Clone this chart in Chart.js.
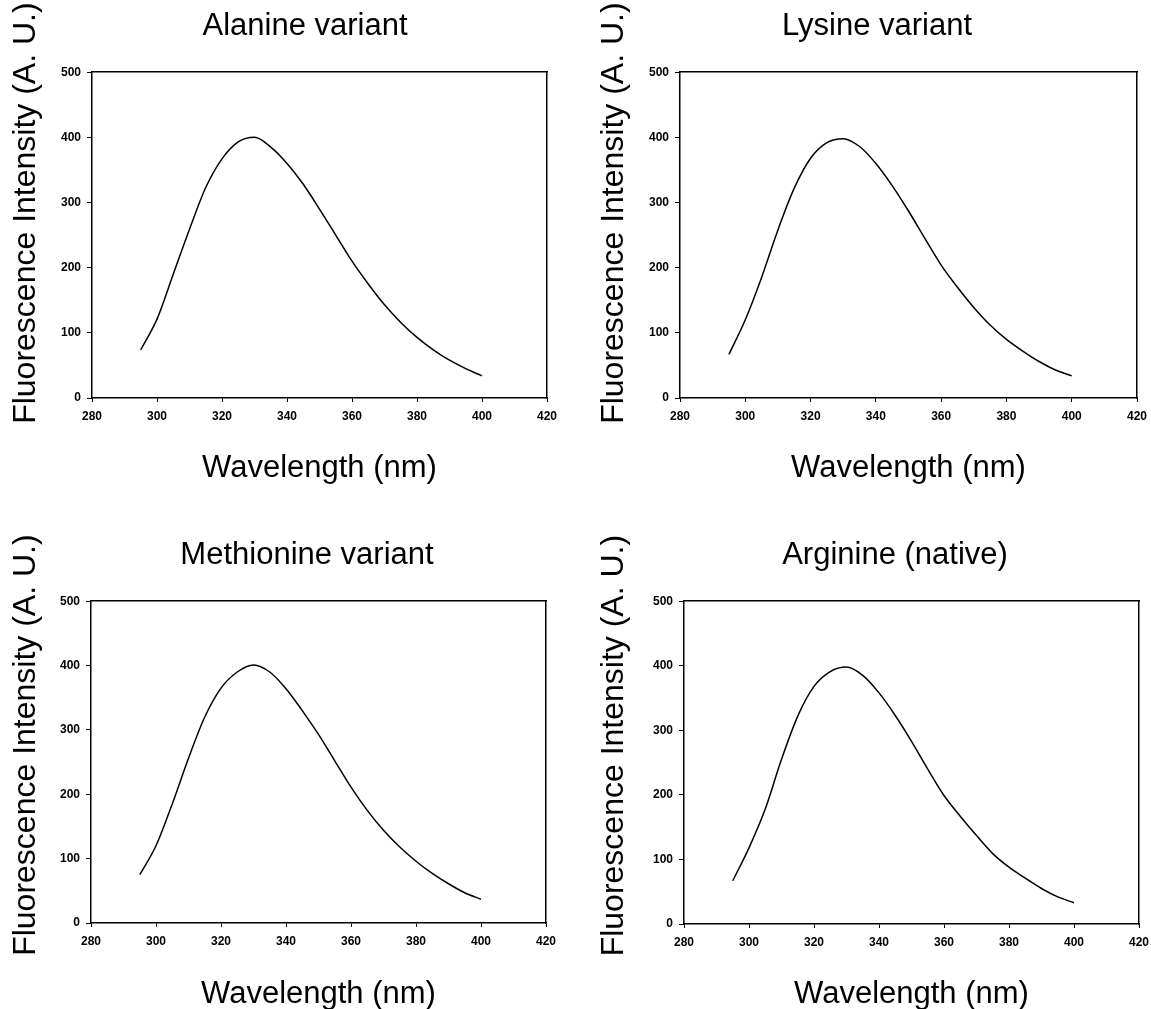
<!DOCTYPE html>
<html>
<head>
<meta charset="utf-8">
<script src="https://cdn.jsdelivr.net/npm/chart.js@4.4.0/dist/chart.umd.min.js"></script>
<style>
  html, body { margin: 0; padding: 0; background: #fff; overflow: hidden; }
  body { position: relative; width: 1151px; height: 1009px; }
  canvas { position: absolute; }
</style>
</head>
<body>
<canvas id="alanine"></canvas>
<canvas id="lysine"></canvas>
<canvas id="methionine"></canvas>
<canvas id="arginine"></canvas>
<script>
// emission spectra, wavelength in nm
const wavelengths = [295, 300, 305, 310, 315, 320, 325, 330, 335, 340, 345, 350, 355, 360, 365, 370, 375, 380, 385, 390, 395, 400];

const alanine    = [74, 121, 190, 259, 323, 367, 393, 400, 385, 360, 328, 290, 250, 210, 175, 143, 116, 93, 74, 58, 45, 34];
const lysine     = [67, 120, 185, 258, 322, 368, 392, 398, 386, 360, 326, 287, 245, 204, 170, 139, 112, 90, 72, 56, 43, 34];
const methionine = [75, 120, 185, 256, 320, 365, 390, 401, 390, 364, 330, 293, 252, 211, 175, 144, 118, 96, 77, 61, 47, 37];
const arginine   = [67, 118, 178, 255, 322, 368, 391, 398, 385, 358, 323, 283, 240, 199, 167, 137, 109, 88, 71, 55, 42, 33];

const xTicks = [280, 300, 320, 340, 360, 380, 400, 420];
const yTicks = [0, 100, 200, 300, 400, 500];

const FONT = "'Liberation Sans', Arial, Helvetica, sans-serif";

const panels = [
  { id: 'alanine', title: 'Alanine variant', values: alanine,
    left: 0, top: 0, width: 610, height: 487, yAxisWidth: 92, rightGap: 63,
    titleTop: 8, titleBottom: 27, xAxisHeight: 89, yTitleShift: -22 },
  { id: 'lysine', title: 'Lysine variant', values: lysine,
    left: 588, top: 0, width: 578, height: 487, yAxisWidth: 92, rightGap: 29,
    titleTop: 8, titleBottom: 27, xAxisHeight: 89, yTitleShift: -22 },
  { id: 'methionine', title: 'Methionine variant', values: methionine,
    left: 0, top: 532, width: 614, height: 481, yAxisWidth: 91, rightGap: 68,
    titleTop: 5, titleBottom: 27, xAxisHeight: 90, yTitleShift: -17 },
  { id: 'arginine', title: 'Arginine (native)', values: arginine,
    left: 588, top: 532, width: 614, height: 481, yAxisWidth: 96, rightGap: 63,
    titleTop: 5, titleBottom: 27, xAxisHeight: 89, yTitleShift: -17 },
];

// vertical axis label, drawn beside the y scale and nudged off its centre
const yTitlePlugin = {
  id: 'yTitle',
  afterDraw(chart, args, opts) {
    const { ctx, chartArea } = chart;
    const y = chart.scales.y;
    ctx.save();
    ctx.translate(y.left + opts.offset, (chartArea.top + chartArea.bottom) / 2 + opts.shift);
    ctx.rotate(-Math.PI / 2);
    ctx.font = '32px ' + FONT;
    ctx.fillStyle = '#000';
    ctx.textAlign = 'center';
    ctx.textBaseline = 'middle';
    ctx.fillText(opts.text, 0, 0);
    ctx.restore();
  },
};

function makeChart(p) {
  const canvas = document.getElementById(p.id);
  canvas.width = p.width;
  canvas.height = p.height;
  canvas.style.left = p.left + 'px';
  canvas.style.top = p.top + 'px';

  const tickFont = { family: FONT, size: 12, weight: 'bold' };
  const bigFont = { family: FONT, size: 31, weight: 'normal' };

  return new Chart(canvas, {
    type: 'line',
    data: {
      datasets: [{
        data: wavelengths.map((w, i) => ({ x: w, y: p.values[i] })),
        borderColor: '#000',
        borderWidth: 1.5,
        pointRadius: 0,
        cubicInterpolationMode: 'monotone',
        fill: false,
      }],
    },
    plugins: [yTitlePlugin],
    options: {
      responsive: false,
      animation: false,
      devicePixelRatio: 1,
      layout: { padding: 0 },
      plugins: {
        legend: { display: false },
        tooltip: { enabled: false },
        title: {
          display: true,
          text: p.title,
          color: '#000',
          font: bigFont,
          padding: { top: p.titleTop, bottom: p.titleBottom },
        },
        yTitle: { text: 'Fluorescence Intensity (A. U.)', offset: 26, shift: p.yTitleShift },
      },
      scales: {
        x: {
          type: 'linear',
          position: 'bottom',
          min: 280,
          max: 420,
          afterBuildTicks: (s) => { s.ticks = xTicks.map((v) => ({ value: v })); },
          afterFit: (s) => { s.height = p.xAxisHeight; },
          ticks: { color: '#000', font: tickFont, padding: 7, maxRotation: 0, autoSkip: false },
          grid: { drawOnChartArea: false, drawTicks: true, tickLength: 4, color: '#000', lineWidth: 1 },
          border: { display: true, color: '#000', width: 1.5 },
          title: { display: true, text: 'Wavelength (nm)', color: '#000', font: bigFont, padding: 0 },
        },
        y: {
          type: 'linear',
          position: 'left',
          min: 0,
          max: 500,
          afterBuildTicks: (s) => { s.ticks = yTicks.map((v) => ({ value: v })); },
          afterFit: (s) => { s.width = p.yAxisWidth; },
          ticks: { color: '#000', font: tickFont, padding: 6 },
          grid: { drawOnChartArea: false, drawTicks: true, tickLength: 5, color: '#000', lineWidth: 1 },
          border: { display: true, color: '#000', width: 1.5 },
        },
        // frame lines along the top and right of the plot
        x2: {
          type: 'linear',
          position: 'top',
          min: 280,
          max: 420,
          afterFit: (s) => { s.height = 0; },
          ticks: { display: false },
          grid: { display: false, drawTicks: false },
          border: { display: true, color: '#000', width: 1.5 },
        },
        y2: {
          type: 'linear',
          position: 'right',
          min: 0,
          max: 500,
          afterFit: (s) => { s.width = p.rightGap; },
          ticks: { display: false },
          grid: { display: false, drawTicks: false },
          border: { display: true, color: '#000', width: 1.5 },
        },
      },
    },
  });
}

panels.forEach(makeChart);
</script>
</body>
</html>
